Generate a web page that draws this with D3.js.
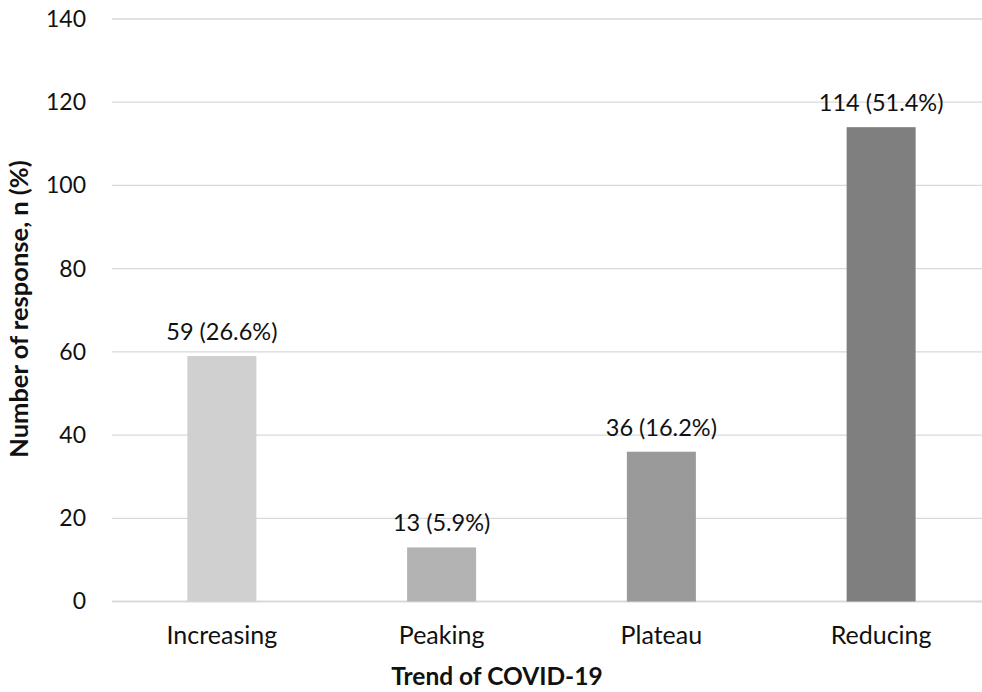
<!DOCTYPE html>
<html>
<head>
<meta charset="utf-8">
<script src="https://cdn.jsdelivr.net/npm/d3@7"></script>
<style>
  html, body { margin: 0; padding: 0; background: #fff; }
  svg text { font-family: Lato, "Open Sans", sans-serif; fill: #111; }
</style>
</head>
<body>
<div id="chart"></div>
<script>
// Survey responses on the perceived trend of COVID-19
const categories = ["Increasing", "Peaking", "Plateau", "Reducing"];
const counts = [59, 13, 36, 114];
const percents = ["26.6%", "5.9%", "16.2%", "51.4%"];
const barColors = ["#d0d0d0", "#b3b3b3", "#9a9a9a", "#7f7f7f"];
const yTicks = [0, 20, 40, 60, 80, 100, 120, 140];
const xTitle = "Trend of COVID-19";
const yTitle = "Number of response, n (%)";

const width = 982, height = 692;
const plot = { left: 112, right: 991, top: 19, bottom: 601.5 };

const svg = d3.select("#chart").append("svg")
  .attr("width", width).attr("height", height);

const x = d3.scaleBand()
  .domain(categories)
  .range([plot.left, plot.right])
  .paddingInner(0.686)
  .paddingOuter(0.343);

const y = d3.scaleLinear()
  .domain([0, 140])
  .range([plot.bottom, plot.top]);

// horizontal gridlines
svg.append("g")
  .selectAll("line")
  .data(yTicks)
  .join("line")
  .attr("x1", plot.left).attr("x2", plot.right)
  .attr("y1", d => y(d)).attr("y2", d => y(d))
  .attr("stroke", "#d9d9d9")
  .attr("stroke-width", d => d === 0 ? 2 : 1.3);

// y axis tick labels
const yAxis = svg.append("g")
  .attr("transform", `translate(${plot.left - 26},0)`)
  .call(d3.axisLeft(y).tickValues(yTicks).tickSize(0).tickPadding(0));
yAxis.select(".domain").remove();
yAxis.selectAll("text")
  .attr("font-size", 23)
  .attr("font-family", "Lato, sans-serif")
  .attr("fill", "#111");

// bars
const rows = categories.map((c, i) => ({ c, n: counts[i], p: percents[i], color: barColors[i] }));
svg.append("g")
  .selectAll("rect")
  .data(rows)
  .join("rect")
  .attr("x", d => x(d.c))
  .attr("width", x.bandwidth())
  .attr("y", d => y(d.n))
  .attr("height", d => y(0) - y(d.n))
  .attr("fill", d => d.color);

// value labels
svg.append("g")
  .selectAll("text")
  .data(rows)
  .join("text")
  .attr("x", d => x(d.c) + x.bandwidth() / 2)
  .attr("y", d => y(d.n) - 16)
  .attr("text-anchor", "middle")
  .attr("font-size", 23.5)
  .text(d => `${d.n} (${d.p})`);

// x axis category labels
const xAxis = svg.append("g")
  .attr("transform", `translate(0,${plot.bottom})`)
  .call(d3.axisBottom(x).tickSize(0).tickPadding(0));
xAxis.select(".domain").remove();
xAxis.selectAll("text")
  .attr("dy", null)
  .attr("y", 42.5)
  .attr("font-size", 25)
  .attr("font-family", "Lato, sans-serif")
  .attr("fill", "#111");

// axis titles
svg.append("text")
  .attr("x", 497).attr("y", 685)
  .attr("text-anchor", "middle")
  .attr("font-size", 24.5)
  .attr("font-weight", "bold")
  .text(xTitle);

svg.append("text")
  .attr("transform", `translate(28,309) rotate(-90)`)
  .attr("text-anchor", "middle")
  .attr("font-size", 25.5)
  .attr("font-weight", "bold")
  .text(yTitle);
</script>
</body>
</html>
